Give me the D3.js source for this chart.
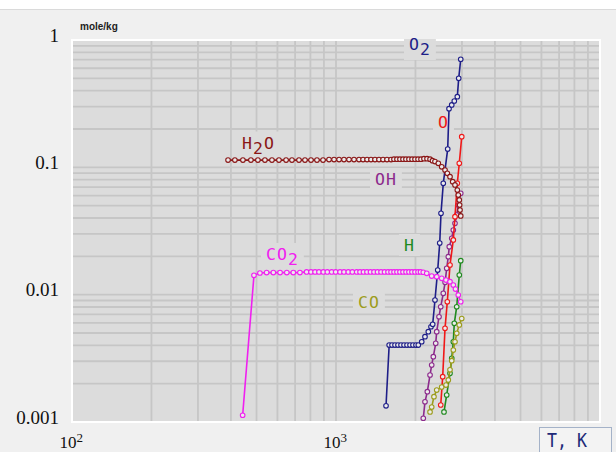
<!DOCTYPE html>
<html><head><meta charset="utf-8">
<script src="https://cdn.jsdelivr.net/npm/d3@7"></script>
<style>
html,body{margin:0;padding:0;background:#f0f0f0;}
svg{display:block;}
</style></head><body>
<svg id="chart" width="616" height="452"></svg>
<script>
// ---------- data (temperature in K, amount in mole/kg) ----------
const o2T  = [1547, 1590, 1630, 1673, 1717, 1763, 1810, 1858, 1907, 1957, 2009, 2050, 2112, 2173, 2237, 2290, 2324, 2371, 2428, 2471, 2499, 2549, 2649, 2680, 2744, 2806, 2881, 2916, 2968];
const o2V  = [0.00134, 0.00402, 0.00402, 0.00402, 0.00402, 0.00402, 0.00402, 0.00402, 0.00402, 0.00402, 0.00402, 0.00402, 0.00427, 0.00468, 0.00512, 0.0056, 0.00585, 0.00908, 0.0156, 0.0254, 0.0436, 0.0749, 0.139, 0.289, 0.309, 0.332, 0.359, 0.50, 0.706];

const ohT  = [2141, 2173, 2218, 2271, 2304, 2337, 2386, 2407, 2456, 2493, 2549, 2590, 2626, 2663, 2686, 2744, 2782, 2823, 2866, 2905, 2968];
const ohV  = [0.00107, 0.00144, 0.00173, 0.00234, 0.0028, 0.00326, 0.00415, 0.00512, 0.00671, 0.00804, 0.01025, 0.0125, 0.0161, 0.01986, 0.0238, 0.0277, 0.0322, 0.0363, 0.0422, 0.0506, 0.0625];

const oT   = [2493, 2536, 2588, 2640, 2703, 2782, 2823, 2881, 2931, 2994];
const oV   = [0.00136, 0.00227, 0.00544, 0.0088, 0.0171, 0.0269, 0.041, 0.0749, 0.1076, 0.174];

const hT   = [2565, 2626, 2703, 2744, 2782, 2806, 2866, 2931, 2968];
const hV   = [0.0012, 0.00163, 0.00241, 0.00316, 0.00427, 0.00596, 0.00804, 0.01427, 0.0185];

const coT  = [2271, 2304, 2350, 2407, 2514, 2610, 2663, 2703, 2744, 2782, 2823, 2866, 2931, 2994];
const coV  = [0.0012, 0.00131, 0.00158, 0.00178, 0.00188, 0.00195, 0.00214, 0.00257, 0.00303, 0.00367, 0.00427, 0.00497, 0.00579, 0.0065];

const h2oT = [390, 414, 444, 476, 506, 538, 572, 608, 647, 681, 724, 763, 804, 847, 893, 941, 983, 1027, 1072, 1120, 1170, 1222, 1266, 1311, 1357, 1405, 1455, 1507, 1560, 1616, 1658, 1702, 1747, 1794, 1841, 1890, 1941, 1992, 2045, 2099, 2154, 2212, 2271, 2320, 2371, 2441, 2514, 2588, 2640, 2703, 2767, 2823, 2881, 2905, 2931, 2940, 2949, 2968];
const h2oV = [0.114, 0.114, 0.114, 0.114, 0.114, 0.114, 0.114, 0.114, 0.114, 0.114, 0.114, 0.114, 0.114, 0.114, 0.114, 0.115, 0.115, 0.115, 0.115, 0.115, 0.115, 0.115, 0.115, 0.115, 0.115, 0.115, 0.115, 0.115, 0.115, 0.115, 0.116, 0.116, 0.116, 0.116, 0.116, 0.116, 0.116, 0.116, 0.116, 0.116, 0.117, 0.117, 0.116, 0.1128, 0.111, 0.1076, 0.101, 0.0953, 0.0898, 0.0844, 0.0771, 0.0727, 0.0664, 0.0606, 0.0554, 0.0506, 0.0462, 0.0415];

const co2T = [443, 489, 515, 546, 579, 614, 651, 689, 730, 774, 804, 833, 862, 895, 927, 963, 997, 1036, 1072, 1113, 1153, 1198, 1233, 1271, 1310, 1351, 1393, 1436, 1481, 1527, 1574, 1616, 1659, 1702, 1747, 1794, 1842, 1890, 1940, 1992, 2045, 2090, 2141, 2206, 2304, 2407, 2514, 2610, 2703, 2782, 2835, 2905, 2968];
const co2V = [0.00113, 0.0142, 0.0148, 0.0149, 0.0149, 0.0149, 0.0149, 0.0149, 0.0149, 0.0151, 0.0151, 0.0151, 0.0151, 0.0151, 0.0151, 0.0151, 0.0151, 0.0151, 0.0151, 0.0151, 0.0151, 0.0151, 0.0151, 0.0151, 0.0151, 0.0151, 0.0151, 0.0151, 0.0151, 0.0151, 0.0151, 0.0151, 0.0151, 0.0151, 0.0151, 0.0151, 0.0151, 0.0151, 0.0151, 0.0151, 0.0151, 0.0151, 0.0150, 0.0147, 0.0140, 0.01384, 0.01344, 0.01303, 0.01264, 0.0119, 0.01107, 0.00994, 0.0088];

const seriesNames  = ["O2", "OH", "O", "H", "CO", "H2O", "CO2"];
const seriesColors = ["#1e1e88", "#8c2a8c", "#f01818", "#1f8a1f", "#9c9c1c", "#8a1616", "#f020f0"];
const seriesT = [o2T, ohT, oT, hT, coT, h2oT, co2T];
const seriesV = [o2V, ohV, oV, hV, coV, h2oV, co2V];

const yTickValues = [1, 0.1, 0.01, 0.001];
const yTickLabels = ["1", "0.1", "0.01", "0.001"];
const xTickValues = [100, 1000];
const xTickBase   = ["10", "10"];
const xTickExp    = ["2", "3"];
const yUnit = "mole/kg";
const xUnit = "T, K";

// ---------- layout ----------
const W = 616, H = 452;
const L = 72, R = 600, T = 40, B = 422;
const labelPos = {
  "O2":  [409, 50],
  "O":   [438, 128],
  "OH":  [375, 185],
  "H":   [404, 251],
  "H2O": [242, 148.5],
  "CO2": [266, 260],
  "CO":  [358, 308]
};

const svg = d3.select("#chart");
svg.append("rect").attr("width", W).attr("height", H).attr("fill", "#f0f0f0");
svg.append("rect").attr("width", W).attr("height", 9).attr("fill", "#ffffff");
svg.append("line").attr("x1", 0).attr("x2", W).attr("y1", 9.5).attr("y2", 9.5).attr("stroke", "#dadada");

svg.append("defs").append("clipPath").attr("id", "plotClip")
  .append("rect").attr("x", L).attr("y", T - 1).attr("width", R - L).attr("height", B - T + 2);

const x = d3.scaleLog().domain([100, 10000]).range([L, R]);
const y = d3.scaleLog().domain([0.001, 1]).range([B, T]);

// plot background
svg.append("rect").attr("x", L).attr("y", T).attr("width", R - L).attr("height", B - T).attr("fill", "#dcdcdc");

// grid
const grid = svg.append("g");
grid.selectAll("line.gx").data(x.ticks().filter(t => t > 100 * 1.0001 && t < 10000 * 0.9999)).join("line")
  .attr("class", "gx")
  .attr("x1", d => x(d)).attr("x2", d => x(d)).attr("y1", T).attr("y2", B)
  .attr("stroke", "#c6c6c6").attr("stroke-width", 1.8);
grid.selectAll("line.gy").data(y.ticks().filter(t => t > 0.001 * 1.0001 && t < 0.9999)).join("line")
  .attr("class", "gy")
  .attr("x1", L).attr("x2", R).attr("y1", d => y(d)).attr("y2", d => y(d))
  .attr("stroke", "#c6c6c6").attr("stroke-width", 1.8);

// white frame
svg.append("rect").attr("x", L).attr("y", T).attr("width", R - L).attr("height", B - T)
  .attr("fill", "none").attr("stroke", "#ffffff").attr("stroke-width", 2);

// label layers
const labelBg = svg.append("g").attr("clip-path", "url(#plotClip)");
const seriesG = svg.append("g");
const labelG = svg.append("g");

// series
const line = d3.line().x(d => x(d.T)).y(d => y(d.v));
seriesNames.forEach((name, k) => {
  const pts = seriesT[k].map((t, i) => ({ T: t, v: seriesV[k][i] }));
  const g = seriesG.append("g");
  g.append("path").datum(pts).attr("d", line)
    .attr("fill", "none").attr("stroke", seriesColors[k]).attr("stroke-width", 1.6);
  g.selectAll("circle").data(pts).join("circle")
    .attr("cx", d => x(d.T)).attr("cy", d => y(d.v)).attr("r", 2.3)
    .attr("fill", "#ececec").attr("stroke", seriesColors[k]).attr("stroke-width", 1.1);
});

// series labels (digits as subscripts)
seriesNames.forEach((name, k) => {
  const p = labelPos[name];
  const t = labelG.append("text").attr("x", p[0]).attr("y", p[1])
    .attr("font-family", "DejaVu Sans Mono").attr("font-size", 16.5)
    .attr("letter-spacing", 1).attr("fill", seriesColors[k]);
  let low = false;
  for (const ch of name) {
    const isSub = /[0-9]/.test(ch);
    const ts = t.append("tspan").text(ch);
    if (isSub && !low) { ts.attr("dy", 5); low = true; }
    else if (!isSub && low) { ts.attr("dy", -5); low = false; }
  }
  const bb = t.node().getBBox();
  labelBg.append("rect").attr("x", bb.x - 5).attr("y", bb.y - 2)
    .attr("width", bb.width + 10).attr("height", bb.height + 3).attr("fill", "#dcdcdc");
});

// y axis
const yAxisG = svg.append("g").attr("transform", "translate(59,0)")
  .call(d3.axisLeft(y).tickValues(yTickValues).tickFormat((d, i) => yTickLabels[i]).tickSize(0).tickPadding(0));
yAxisG.select(".domain").remove();
yAxisG.selectAll(".tick text").attr("dy", "0").attr("y", 1)
  .attr("font-family", "Liberation Serif").attr("font-size", 19).attr("fill", "#111");

// x axis
const xAxisG = svg.append("g")
  .call(d3.axisBottom(x).tickValues(xTickValues).tickSize(0).tickFormat(() => ""));
xAxisG.select(".domain").remove();
xAxisG.selectAll(".tick text").each(function (d, i) {
  const t = d3.select(this);
  t.text(null).attr("x", 10.5).attr("y", 448).attr("dy", null).attr("text-anchor", "end")
    .attr("font-family", "Liberation Serif").attr("fill", "#111");
  t.append("tspan").attr("font-size", 17).text(xTickBase[i]);
  t.append("tspan").attr("font-size", 13).attr("dy", -6).text(xTickExp[i]);
});

// unit labels
svg.append("text").attr("x", 80).attr("y", 29.5).attr("font-family", "Liberation Sans")
  .attr("font-weight", "bold").attr("font-size", 10).attr("fill", "#222").text(yUnit);

svg.append("rect").attr("x", 539.5).attr("y", 427.5).attr("width", 72).attr("height", 40)
  .attr("fill", "#f3f3f3").attr("stroke", "#a4b2c8").attr("stroke-width", 1);
svg.append("text").attr("x", 547).attr("y", 447).attr("font-family", "DejaVu Sans Mono")
  .attr("font-size", 19).attr("textLength", 40).attr("lengthAdjust", "spacingAndGlyphs")
  .attr("fill", "#1e2a78").text(xUnit);
</script>
</body></html>
